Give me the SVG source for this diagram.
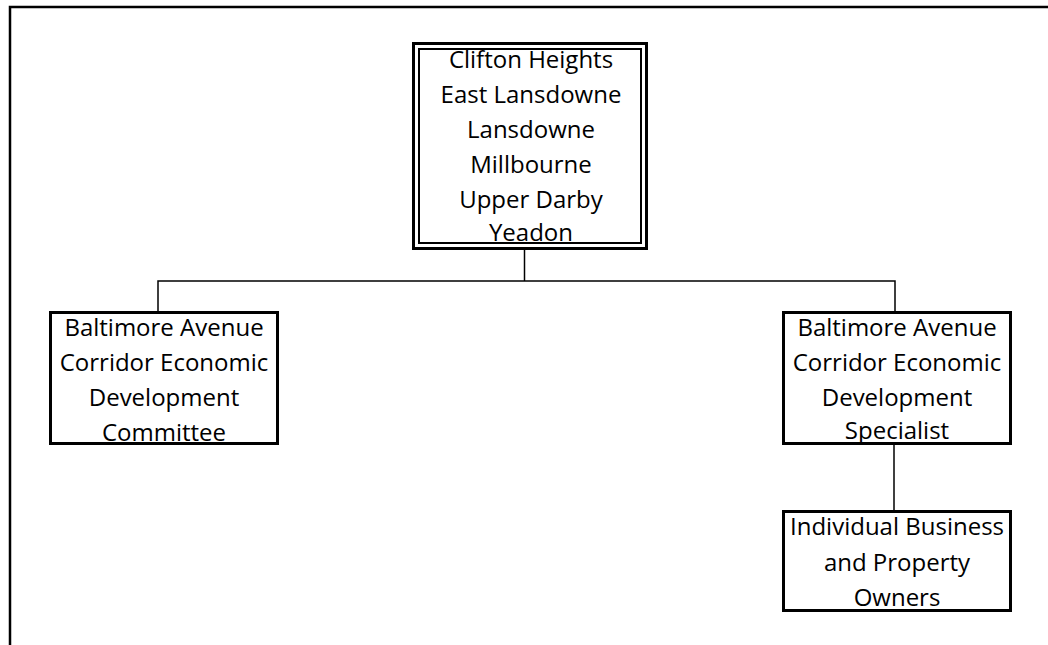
<svg xmlns="http://www.w3.org/2000/svg" width="1048" height="645" viewBox="0 0 1048 645">
  <style>
    .box { fill: #ffffff; stroke: #000000; stroke-width: 3; }
    .inner { fill: none; stroke: #000000; stroke-width: 2; }
    .wire { fill: none; stroke: #000000; stroke-width: 1.5; }
    .frame { fill: none; stroke: #000000; stroke-width: 2.5; }
    text { font-family: "Open Sans", "Noto Sans", sans-serif; font-size: 24px; fill: #000000; text-anchor: middle; }
  </style>
  <rect x="0" y="0" width="1048" height="645" fill="#ffffff"/>

  <!-- page frame: top and left edges only -->
  <path class="frame" d="M10,645 V7 H1048"/>

  <!-- connectors -->
  <g id="connectors">
    <path class="wire" d="M524.5,249 V281"/>
    <path class="wire" d="M158,311 V281 H895 V311"/>
    <path class="wire" d="M894,445 V510"/>
  </g>

  <!-- municipalities (double border) -->
  <g id="municipalities">
    <rect class="box" x="413.5" y="43.5" width="233" height="205"/>
    <rect class="inner" x="419" y="49" width="222" height="194"/>
    <text x="531" y="68">Clifton Heights</text>
    <text x="531" y="103">East Lansdowne</text>
    <text x="531" y="138">Lansdowne</text>
    <text x="531" y="173">Millbourne</text>
    <text x="531" y="208">Upper Darby</text>
    <text x="531" y="241">Yeadon</text>
  </g>

  <!-- committee -->
  <g id="committee">
    <rect class="box" x="50.5" y="312.5" width="227" height="131"/>
    <text x="164" y="336">Baltimore Avenue</text>
    <text x="164" y="371">Corridor Economic</text>
    <text x="164" y="406">Development</text>
    <text x="164" y="441">Committee</text>
  </g>

  <!-- specialist -->
  <g id="specialist">
    <rect class="box" x="783.5" y="312.5" width="227" height="131"/>
    <text x="897" y="336">Baltimore Avenue</text>
    <text x="897" y="371">Corridor Economic</text>
    <text x="897" y="406">Development</text>
    <text x="897" y="439">Specialist</text>
  </g>

  <!-- owners -->
  <g id="owners">
    <rect class="box" x="783.5" y="511.5" width="227" height="99"/>
    <text x="897" y="535">Individual Business</text>
    <text x="897" y="571">and Property</text>
    <text x="897" y="606">Owners</text>
  </g>
</svg>
